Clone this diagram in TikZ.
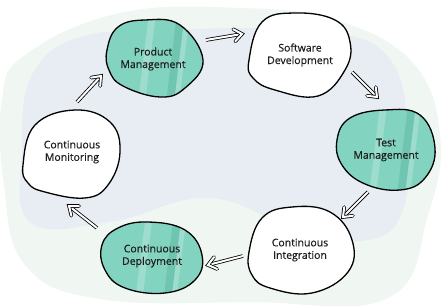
\documentclass[tikz,border=0pt]{standalone}
\usepackage{fontspec}
\setmainfont{Open Sans}
\newfontfamily\lblfont{Open Sans}[BoldFont=Open Sans, BoldFeatures={FakeBold=0.5}]
\usetikzlibrary{calc}
\definecolor{bggreen}{HTML}{F0F7F2}
\definecolor{bggrey}{HTML}{E8ECF3}
\definecolor{teal1}{HTML}{82D4C0}
\definecolor{teallight}{HTML}{9EDDCE}
\definecolor{tealdark}{HTML}{70C5B1}
\definecolor{txt}{HTML}{1E1E1E}
\tikzset{
  blobline/.style={draw=black, line width=1.3pt},
  label/.style={text=txt, font=\lblfont\bfseries\fontsize{10.5}{12.5}\selectfont, align=center, inner sep=0pt},
  flowline/.style={draw=black, line width=0.8pt, double=white, double distance=2pt},
  flowhead/.style={flowline, line join=miter, line cap=round},
}
\newcommand{\flowarrow}[2]{%
  \draw[flowline] (#1) -- ($(#2)!3pt!(#1)$);
  \draw[flowhead] ($(#2)!10pt!38:(#1)$) -- (#2) -- ($(#2)!10pt!-38:(#1)$);
}
\newcommand{\glare}{%
  \fill[teallight] (-6,-45) -- (1,-45) -- (-10,45) -- (-17,45) -- cycle;
  \fill[tealdark] (22,-45) -- (30,-45) -- (19,45) -- (11,45) -- cycle;
  \fill[teallight] (30,-45) -- (35,-45) -- (24,45) -- (19,45) -- cycle;
}
\begin{document}
\begin{tikzpicture}[x=1pt,y=-1pt]
\useasboundingbox (0,0) rectangle (443,305);
\fill[white] (0,0) rectangle (443,305);
% background blobs
\fill[bggreen] plot[smooth cycle, tension=0.7] coordinates {(2,100) (25,55) (120,13) (240,8) (335,20) (412,62) (440,135) (428,215) (388,298) (250,302) (100,299) (25,265) (4,185)};
\fill[bggrey] plot[smooth cycle, tension=0.7] coordinates {(22,150) (32,75) (80,37) (160,31) (250,28) (335,32) (392,62) (408,140) (402,212) (368,240) (300,232) (210,198) (110,222) (30,222)};
% blobs
\begin{scope}[shift={(155,58)}]
  \path[fill=teal1] plot[smooth cycle, tension=0.7] coordinates {(-48,-8) (-37,-31) (-10,-38) (25,-33) (48,2) (30,30) (5,39) (-32,28) (-46,12)};
  \begin{scope}
    \clip plot[smooth cycle, tension=0.7] coordinates {(-48,-8) (-37,-31) (-10,-38) (25,-33) (48,2) (30,30) (5,39) (-32,28) (-46,12)};
    \glare
  \end{scope}
  \path[blobline] plot[smooth cycle, tension=0.7] coordinates {(-48,-8) (-37,-31) (-10,-38) (25,-33) (48,2) (30,30) (5,39) (-32,28) (-46,12)};
\end{scope}
\node[label] (pm) at (153,59) {Product\\Management};

\path[blobline, fill=white] plot[smooth cycle, tension=0.7] coordinates {(249,60) (262,22) (295,13) (335,20) (350,42) (345,70) (318,96) (275,90) (253,78)};
\node[label] (sd) at (300,55) {Software\\Development};

\begin{scope}[shift={(386,150)}]
  \path[fill=teal1] plot[smooth cycle, tension=0.7] coordinates {(-49,-10) (-36,-32) (-1,-40) (34,-35) (49,-2) (39,28) (14,40) (-21,34) (-44,15)};
  \begin{scope}
    \clip plot[smooth cycle, tension=0.7] coordinates {(-49,-10) (-36,-32) (-1,-40) (34,-35) (49,-2) (39,28) (14,40) (-21,34) (-44,15)};
    \glare
  \end{scope}
  \path[blobline] plot[smooth cycle, tension=0.7] coordinates {(-49,-10) (-36,-32) (-1,-40) (34,-35) (49,-2) (39,28) (14,40) (-21,34) (-44,15)};
\end{scope}
\node[label] (tm) at (386,150) {Test\\Management};

\path[blobline, fill=white] plot[smooth cycle, tension=0.7] coordinates {(249,252) (262,218) (292,207) (330,212) (352,240) (348,272) (312,293) (270,288) (252,275)};
\node[label] (ci) at (300,250) {Continuous\\Integration};

\begin{scope}[shift={(152,258)}]
  \path[fill=teal1] plot[smooth cycle, tension=0.7] coordinates {(-50,-13) (-34,-30) (-4,-36) (33,-28) (50,-3) (43,22) (13,35) (-27,30) (-47,12)};
  \begin{scope}
    \clip plot[smooth cycle, tension=0.7] coordinates {(-50,-13) (-34,-30) (-4,-36) (33,-28) (50,-3) (43,22) (13,35) (-27,30) (-47,12)};
    \glare
  \end{scope}
  \path[blobline] plot[smooth cycle, tension=0.7] coordinates {(-50,-13) (-34,-30) (-4,-36) (33,-28) (50,-3) (43,22) (13,35) (-27,30) (-47,12)};
\end{scope}
\node[label] (cd) at (152,256) {Continuous\\Deployment};

\path[blobline, fill=white] plot[smooth cycle, tension=0.7] coordinates {(23,165) (35,125) (75,110) (110,122) (120,152) (108,185) (85,198) (45,192) (28,183)};
\node[label] (cm) at (72,152) {Continuous\\Monitoring};

% arrows
\coordinate (a1s) at (206,40); \coordinate (a1e) at (242,34);
\coordinate (a2s) at (352,72); \coordinate (a2e) at (377,97);
\coordinate (a3s) at (368,192); \coordinate (a3e) at (343,217);
\coordinate (a4s) at (243,256); \coordinate (a4e) at (208,265);
\coordinate (a5s) at (97,228); \coordinate (a5e) at (69,206);
\coordinate (a6s) at (77,102); \coordinate (a6e) at (101,76);
\flowarrow{a1s}{a1e}
\flowarrow{a2s}{a2e}
\flowarrow{a3s}{a3e}
\flowarrow{a4s}{a4e}
\flowarrow{a5s}{a5e}
\flowarrow{a6s}{a6e}
\end{tikzpicture}
\end{document}
